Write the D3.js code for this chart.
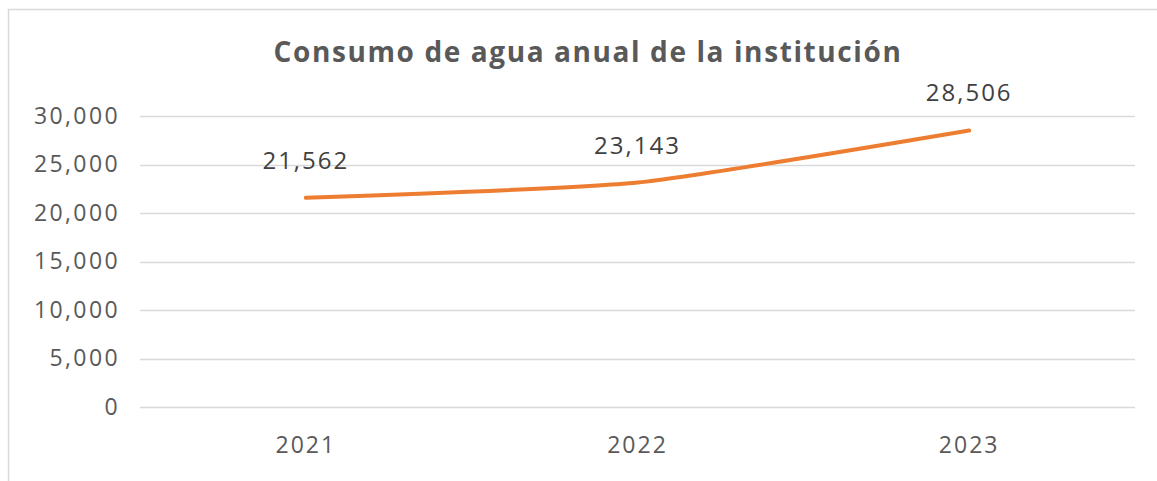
<!DOCTYPE html>
<html>
<head>
<meta charset="utf-8">
<script src="https://cdn.jsdelivr.net/npm/d3@7"></script>
<style>
  body { margin: 0; background: #fff; }
  svg { display: block; }
</style>
</head>
<body>
<svg id="chart"></svg>
<script>
// data
var years = ["2021", "2022", "2023"]
var consumo = [21562, 23143, 28506]
var yTicks = [0, 5000, 10000, 15000, 20000, 25000, 30000]
var title = "Consumo de agua anual de la institución"

var width = 1157
var height = 481
var margin = {top: 116, right: 22, bottom: 74, left: 140}

var svg = d3.select("#chart").attr("width", width).attr("height", height)

// outer chart border (only top + left visible in the crop)
svg.append("path")
  .attr("d", `M8.5,${height} V9.5 H${width}`)
  .attr("fill", "none")
  .attr("stroke", "#d9d9d9")
  .attr("stroke-width", 1.5)

var x = d3.scaleBand()
  .domain(years)
  .range([margin.left, width - margin.right])

var y = d3.scaleLinear()
  .domain([0, 30000])
  .range([height - margin.bottom, margin.top])

var fmt = d3.format(",")

// gridlines
svg.append("g")
  .selectAll("line")
  .data(yTicks)
  .join("line")
  .attr("x1", margin.left)
  .attr("x2", width - margin.right)
  .attr("y1", d => Math.round(y(d)) + 0.5)
  .attr("y2", d => Math.round(y(d)) + 0.5)
  .attr("stroke", "#d9d9d9")
  .attr("stroke-width", 1.5)

// y axis labels
var yAxis = svg.append("g")
  .attr("transform", `translate(${margin.left - 20},0)`)
  .call(d3.axisLeft(y).tickValues(yTicks).tickFormat(fmt).tickSize(0).tickPadding(0))
yAxis.select(".domain").remove()
yAxis.selectAll("text")
  .attr("fill", "#595959")
  .style("font", "23px 'Open Sans', sans-serif")
  .style("letter-spacing", "2.4px")

// x axis labels
var xAxis = svg.append("g")
  .attr("transform", `translate(0,${height - margin.bottom + 30})`)
  .call(d3.axisBottom(x).tickSize(0).tickPadding(0))
xAxis.select(".domain").remove()
xAxis.selectAll("text")
  .attr("fill", "#595959")
  .style("font", "23px 'Open Sans', sans-serif")
  .style("letter-spacing", "2px")

// line
var line = d3.line()
  .x((d, i) => x(years[i]) + x.bandwidth() / 2)
  .y(d => y(d))
  .curve(d3.curveCardinal.tension(0.5))

svg.append("path")
  .datum(consumo)
  .attr("d", line)
  .attr("fill", "none")
  .attr("stroke", "#ED7D31")
  .attr("stroke-width", 4)
  .attr("stroke-linecap", "round")

// data labels
svg.append("g")
  .selectAll("text")
  .data(consumo)
  .join("text")
  .attr("x", (d, i) => x(years[i]) + x.bandwidth() / 2)
  .attr("y", d => y(d) - 29)
  .attr("text-anchor", "middle")
  .attr("fill", "#404040")
  .style("font", "24px 'Open Sans', sans-serif")
  .style("letter-spacing", "2px")
  .text(d => fmt(d))

// title
svg.append("text")
  .attr("x", 588)
  .attr("y", 62)
  .attr("text-anchor", "middle")
  .attr("fill", "#595959")
  .style("font", "bold 28px 'Open Sans', sans-serif")
  .style("letter-spacing", "1.6px")
  .text(title)
</script>
</body>
</html>
